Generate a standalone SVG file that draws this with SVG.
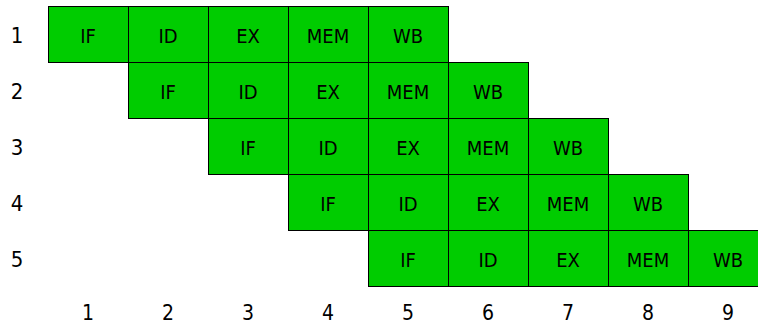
<svg xmlns="http://www.w3.org/2000/svg" width="758" height="326" viewBox="0 0 758 326">
<style>
.c{fill:#00CC00;stroke:#000;stroke-width:1}
.t{font-family:"DejaVu Sans Condensed","DejaVu Sans",sans-serif;font-stretch:condensed;font-size:20px;fill:#000;text-anchor:middle}
.l{font-family:"DejaVu Sans Condensed","DejaVu Sans",sans-serif;font-stretch:condensed;font-size:22px;fill:#000;text-anchor:middle}
.b{font-family:"DejaVu Sans Condensed","DejaVu Sans",sans-serif;font-stretch:condensed;font-size:21px;fill:#000;text-anchor:middle}
</style>
<rect width="758" height="326" fill="#fff"/>
<g id="row1">
<rect class="c" x="48.5" y="6.5" width="80" height="56"/><text class="t" x="88" y="43">IF</text>
<rect class="c" x="128.5" y="6.5" width="80" height="56"/><text class="t" x="168" y="43">ID</text>
<rect class="c" x="208.5" y="6.5" width="80" height="56"/><text class="t" x="248" y="43">EX</text>
<rect class="c" x="288.5" y="6.5" width="80" height="56"/><text class="t" x="328" y="43">MEM</text>
<rect class="c" x="368.5" y="6.5" width="80" height="56"/><text class="t" x="408" y="43">WB</text>
</g>
<g id="row2">
<rect class="c" x="128.5" y="62.5" width="80" height="56"/><text class="t" x="168" y="99">IF</text>
<rect class="c" x="208.5" y="62.5" width="80" height="56"/><text class="t" x="248" y="99">ID</text>
<rect class="c" x="288.5" y="62.5" width="80" height="56"/><text class="t" x="328" y="99">EX</text>
<rect class="c" x="368.5" y="62.5" width="80" height="56"/><text class="t" x="408" y="99">MEM</text>
<rect class="c" x="448.5" y="62.5" width="80" height="56"/><text class="t" x="488" y="99">WB</text>
</g>
<g id="row3">
<rect class="c" x="208.5" y="118.5" width="80" height="56"/><text class="t" x="248" y="155">IF</text>
<rect class="c" x="288.5" y="118.5" width="80" height="56"/><text class="t" x="328" y="155">ID</text>
<rect class="c" x="368.5" y="118.5" width="80" height="56"/><text class="t" x="408" y="155">EX</text>
<rect class="c" x="448.5" y="118.5" width="80" height="56"/><text class="t" x="488" y="155">MEM</text>
<rect class="c" x="528.5" y="118.5" width="80" height="56"/><text class="t" x="568" y="155">WB</text>
</g>
<g id="row4">
<rect class="c" x="288.5" y="174.5" width="80" height="56"/><text class="t" x="328" y="211">IF</text>
<rect class="c" x="368.5" y="174.5" width="80" height="56"/><text class="t" x="408" y="211">ID</text>
<rect class="c" x="448.5" y="174.5" width="80" height="56"/><text class="t" x="488" y="211">EX</text>
<rect class="c" x="528.5" y="174.5" width="80" height="56"/><text class="t" x="568" y="211">MEM</text>
<rect class="c" x="608.5" y="174.5" width="80" height="56"/><text class="t" x="648" y="211">WB</text>
</g>
<g id="row5">
<rect class="c" x="368.5" y="230.5" width="80" height="56"/><text class="t" x="408" y="267">IF</text>
<rect class="c" x="448.5" y="230.5" width="80" height="56"/><text class="t" x="488" y="267">ID</text>
<rect class="c" x="528.5" y="230.5" width="80" height="56"/><text class="t" x="568" y="267">EX</text>
<rect class="c" x="608.5" y="230.5" width="80" height="56"/><text class="t" x="648" y="267">MEM</text>
<rect class="c" x="688.5" y="230.5" width="80" height="56"/><text class="t" x="728" y="267">WB</text>
</g>
<g id="row-labels">
<text class="l" x="17" y="43">1</text>
<text class="l" x="17" y="99">2</text>
<text class="l" x="17" y="155">3</text>
<text class="l" x="17" y="211">4</text>
<text class="l" x="17" y="267">5</text>
</g>
<g id="col-labels">
<text class="b" x="88" y="320">1</text>
<text class="b" x="168" y="320">2</text>
<text class="b" x="248" y="320">3</text>
<text class="b" x="328" y="320">4</text>
<text class="b" x="408" y="320">5</text>
<text class="b" x="488" y="320">6</text>
<text class="b" x="568" y="320">7</text>
<text class="b" x="648" y="320">8</text>
<text class="b" x="728" y="320">9</text>
</g>
<g id="connectors"/>
</svg>
